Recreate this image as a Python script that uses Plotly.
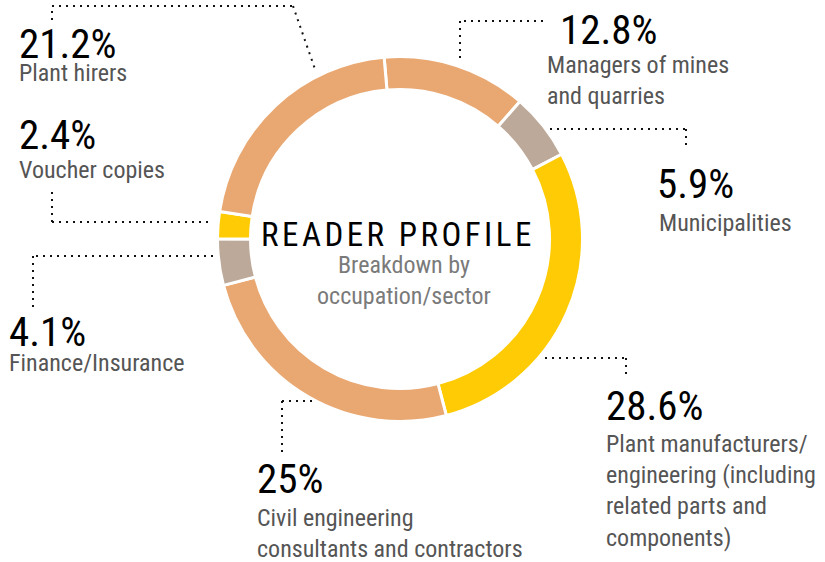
import plotly.graph_objects as go

W, H = 825, 562

# ---- data ----
categories = ["Managers of mines and quarries", "Municipalities",
              "Plant manufacturers/engineering (including related parts and components)",
              "Civil engineering consultants and contractors", "Finance/Insurance",
              "Voucher copies", "Plant hirers"]
shares = [12.8, 5.9, 28.6, 25.0, 4.1, 2.4, 21.2]
pct_labels = ["12.8%", "5.9%", "28.6%", "25%", "4.1%", "2.4%", "21.2%"]
label_texts = ["Managers of mines<br>and quarries", "Municipalities",
               "Plant manufacturers/<br>engineering (including<br>related parts and<br>components)",
               "Civil engineering<br>consultants and contractors", "Finance/Insurance",
               "Voucher copies", "Plant hirers"]

ORANGE = "#E9A872"
TAN = "#BCA999"
YELLOW = "#FFCB05"
slice_colors = [ORANGE, TAN, YELLOW, ORANGE, TAN, YELLOW, ORANGE]

FONT = "Liberation Sans Narrow, Roboto Condensed, DejaVu Sans Condensed, Arial Narrow, sans-serif"

def px(x):
    return x / W

def py(y):
    return 1 - y / H

# ring geometry (pixels)
cx, cy, r = 400, 239, 182.5
hole = 149.5 / r

fig = go.Figure()
fig.add_trace(go.Pie(
    labels=categories, values=shares, sort=False, direction="clockwise",
    rotation=-5, hole=hole, textinfo="none", hoverinfo="label+percent",
    marker=dict(colors=slice_colors, line=dict(color="white", width=3)),
    domain=dict(x=[px(cx - r), px(cx + r)], y=[py(cy + r), py(cy - r)]),
    showlegend=False,
))

# leader lines (pixel coordinates)
leaders = [
    [(543, 21), (460, 21), (460, 60)],
    [(550, 129), (686, 129), (686, 150)],
    [(545, 358), (626, 358), (626, 378)],
    [(312, 401), (282, 401), (282, 454)],
    [(213, 256), (33, 256), (33, 310)],
    [(52, 192), (52, 222), (213, 222)],
    [(52, 20), (52, 6), (293, 6), (316, 72)],
]
shapes = []
for pts in leaders:
    for (x0, y0), (x1, y1) in zip(pts[:-1], pts[1:]):
        shapes.append(dict(type="line", xref="paper", yref="paper",
                           x0=px(x0), y0=py(y0), x1=px(x1), y1=py(y1),
                           line=dict(color="#111111", width=2, dash="2px,5px")))

# label positions: (left x, top of percent caps, left x, top of label caps)
positions = [
    (560, 13, 547, 55),
    (657, 167, 659, 213),
    (606, 389, 606, 434),
    (257, 462, 257, 508),
    (9, 315, 9, 353),
    (19, 118, 19, 160),
    (19, 27, 19, 63),
]

PCT_SIZE = 41
LBL_SIZE = 24
annotations = []
for (xp, yp, xl, yl), pct, lab in zip(positions, pct_labels, label_texts):
    annotations.append(dict(
        xref="paper", yref="paper", x=px(xp - 2), y=py(yp - 1 - 0.19 * PCT_SIZE),
        xanchor="left", yanchor="top", showarrow=False, align="left",
        text=pct, font=dict(family=FONT, size=PCT_SIZE, color="#000000")))
    annotations.append(dict(
        xref="paper", yref="paper", x=px(xl - 2), y=py(yl - 1 - 0.19 * LBL_SIZE),
        xanchor="left", yanchor="top", showarrow=False, align="left",
        text=lab, font=dict(family=FONT, size=LBL_SIZE, color="#555555")))

# centre title
annotations.append(dict(
    xref="paper", yref="paper", x=px(396), y=py(220 - 1 - 0.19 * 33),
    xanchor="center", yanchor="top", showarrow=False,
    text="R\u200aE\u200aA\u200aD\u200aE\u200aR\u200a \u200aP\u200aR\u200aO\u200aF\u200aI\u200aL\u200aE",
    font=dict(family=FONT, size=33, color="#000000")))
annotations.append(dict(
    xref="paper", yref="paper", x=px(404), y=py(255 - 1 - 0.19 * LBL_SIZE),
    xanchor="center", yanchor="top", showarrow=False, align="center",
    text="Breakdown by<br>occupation/sector",
    font=dict(family=FONT, size=LBL_SIZE, color="#7a7a7a")))

fig.update_layout(
    width=W, height=H, margin=dict(l=0, r=0, t=0, b=0),
    paper_bgcolor="white", plot_bgcolor="white",
    shapes=shapes, annotations=annotations,
)

fig.write_html("out.html", config={"displayModeBar": False},
               post_script="document.body.style.margin='0px';")
